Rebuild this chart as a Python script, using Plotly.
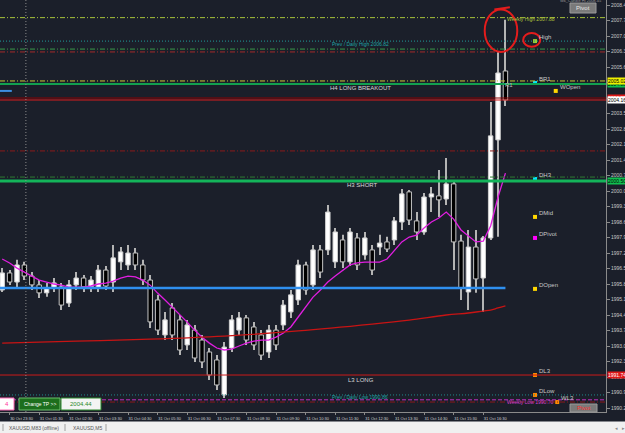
import plotly.graph_objects as go

# ---------------- data ----------------
tick_labels = ["30 Oct 23:30", "31 Oct 01:30", "31 Oct 02:30", "31 Oct 03:30", "31 Oct 04:30",
               "31 Oct 05:30", "31 Oct 06:30", "31 Oct 07:30", "31 Oct 08:30", "31 Oct 09:30",
               "31 Oct 10:30", "31 Oct 11:30", "31 Oct 12:30", "31 Oct 13:30", "31 Oct 14:30",
               "31 Oct 15:30", "31 Oct 16:30"]
tick_bars = [1, 5, 9, 13, 17, 21, 25, 29, 33, 37, 41, 45, 49, 53, 57, 61, 65]

opens = [1995.58, 1996.35, 1995.94, 1996.71, 1996.21, 1995.81, 1995.45, 1995.67, 1995.72, 1994.99,
         1995.81, 1996.12, 1995.72, 1995.67, 1996.48, 1995.94, 1996.85, 1996.71, 1997.25, 1996.71,
         1996.03, 1995.13, 1993.55, 1994.77, 1994.23, 1993.10, 1993.77, 1993.32, 1992.78, 1992.42,
         1990.84, 1992.96, 1993.77, 1994.32, 1993.91, 1993.55, 1992.78, 1993.77, 1994.00, 1994.59,
         1995.13, 1996.71, 1995.81, 1997.39, 1997.39, 1996.85, 1997.84, 1996.85, 1997.93, 1997.16,
         1997.39, 1997.52, 1997.75, 1997.84, 1998.65, 2000.01, 1998.70, 1998.20, 1999.78, 1999.83,
         1999.69, 2000.37, 1997.79, 1995.49, 1997.52, 1996.12, 1997.93, 2002.36, 2005.47]
highs = [1996.57, 1996.48, 1996.94, 1996.85, 1996.39, 1996.03, 1995.90, 1996.12, 1995.90, 1996.03,
         1996.39, 1996.26, 1996.21, 1996.71, 1996.66, 1997.61, 1997.52, 1997.61, 1997.48, 1996.94,
         1996.26, 1995.36, 1994.59, 1994.99, 1994.45, 1994.23, 1994.00, 1993.55, 1992.96, 1992.64,
         1993.23, 1994.45, 1994.59, 1994.45, 1994.14, 1993.77, 1994.00, 1994.00, 1995.13, 1995.58,
         1996.94, 1996.85, 1997.61, 1997.61, 1999.42, 1998.38, 1998.07, 1998.38, 1998.15, 1998.20,
         1997.61, 1998.07, 1997.98, 1998.88, 2000.14, 2000.10, 1999.10, 1999.96, 2000.23, 2001.00,
         2001.54, 2000.55, 1998.07, 1998.29, 1998.29, 1998.02, 2004.07, 2006.33, 2007.78]
lows = [1995.49, 1995.81, 1995.67, 1996.03, 1995.58, 1995.22, 1995.27, 1995.49, 1994.68, 1994.81,
        1995.58, 1995.49, 1995.49, 1995.49, 1995.58, 1995.49, 1996.48, 1996.48, 1996.48, 1995.81,
        1993.86, 1993.55, 1993.32, 1993.32, 1992.64, 1992.87, 1992.33, 1992.06, 1991.52, 1991.06,
        1990.70, 1992.78, 1993.55, 1993.10, 1992.87, 1992.42, 1992.51, 1992.87, 1993.77, 1994.32,
        1994.90, 1995.36, 1995.58, 1996.12, 1997.16, 1996.57, 1996.57, 1996.66, 1996.48, 1996.94,
        1996.26, 1997.16, 1997.30, 1997.61, 1998.29, 1998.52, 1997.84, 1998.07, 1999.10, 1998.88,
        1999.42, 1996.48, 1995.13, 1994.68, 1995.45, 1994.59, 1997.84, 1997.98, 2003.89]
closes = [1996.35, 1995.94, 1996.71, 1996.21, 1995.81, 1995.45, 1995.67, 1995.90, 1994.90, 1995.81,
          1996.12, 1995.72, 1996.03, 1996.48, 1995.76, 1997.03, 1997.30, 1997.25, 1996.71, 1996.03,
          1994.14, 1993.77, 1994.23, 1993.55, 1992.87, 1994.00, 1992.51, 1992.33, 1991.74, 1991.29,
          1993.00, 1994.23, 1994.32, 1993.32, 1993.10, 1992.64, 1993.77, 1993.10, 1994.90, 1995.36,
          1996.71, 1995.58, 1997.39, 1996.39, 1999.10, 1998.20, 1996.85, 1998.20, 1996.71, 1997.93,
          1996.48, 1997.70, 1997.43, 1998.70, 1999.92, 1998.74, 1998.20, 1999.78, 1999.92, 1999.65,
          2000.37, 1997.75, 1995.67, 1997.52, 1996.08, 1997.93, 2002.54, 2005.38, 2004.16]

ma_fast = [1996.98, 1996.80, 1996.57, 1996.39, 1996.21, 1996.03, 1995.94, 1995.85, 1995.80, 1995.71,
           1995.71, 1995.71, 1995.76, 1995.85, 1995.89, 1995.98, 1996.12, 1996.21, 1996.17, 1996.03,
           1995.80, 1995.44, 1995.13, 1994.81, 1994.45, 1994.13, 1993.77, 1993.45, 1993.18, 1992.96,
           1992.87, 1992.91, 1993.05, 1993.18, 1993.27, 1993.32, 1993.32, 1993.45, 1993.64, 1993.91,
           1994.36, 1994.81, 1995.26, 1995.58, 1995.94, 1996.21, 1996.48, 1996.71, 1996.80, 1996.84,
           1996.84, 1996.84, 1996.98, 1997.38, 1997.75, 1997.97, 1998.06, 1998.38, 1998.65, 1998.83,
           1999.10, 1998.78, 1998.29, 1998.02, 1997.75, 1997.79, 1998.47, 1999.78, 2000.86]

ma_slow_bars = [0, 10, 20, 30, 40, 50, 55, 60, 63, 65, 66, 67, 68]
ma_slow = [1993.18, 1993.27, 1993.36, 1993.50, 1993.73, 1994.04, 1994.22, 1994.45, 1994.54,
           1994.63, 1994.67, 1994.77, 1994.86]

# horizontal levels
level_prices = [2007.88, 2006.82, 2006.46, 2006.33, 2005.02, 2004.88, 2004.25, 2004.16,
                2001.86, 2000.68, 2000.50, 1991.74, 1990.84, 1990.62, 1990.52]
level_colors = ["#a8c43a", "#1f9a9a", "#3a9a4a", "#a52a2a", "#c8c832", "#12a050", "#8b0000", "#d81c1c",
                "#8b1a1a", "#2e7d32", "#14b45a", "#cc1a1a", "#1f8a8a", "#c030c0", "#8b1a1a"]
level_widths = [1, 1, 1, 1, 1, 2, 1, 1, 1, 1, 3, 1, 1, 1, 1]
level_dashes = ["5px,2px,1px,2px", "1px,2px", "5px,2px,1px,2px", "5px,2px,1px,2px", "5px,2px,1px,2px",
                "solid", "solid", "solid", "5px,2px,1px,2px", "5px,2px,1px,2px", "solid", "solid",
                "1px,2px", "4px,2px", "5px,2px,1px,2px"]

daily_open = 1995.67
weekly_open = 2004.57
day_start_bar = 3

marker_names = ["High", "BR1", "WOpen", "DH3", "DMid", "DPivot", "DOpen", "DL3", "DLow", "WL3"]
marker_prices = [2006.82, 2004.93, 2004.57, 2000.59, 1998.88, 1997.93, 1995.63, 1991.74, 1990.84, 1990.52]
marker_bars = [72, 72, 74.8, 72, 72, 72, 72, 72, 72, 75]
marker_colors = ["#9acd32", "#00e5ff", "#ffd700", "#00e5ff", "#ffd700", "#ff00ff", "#ffd700",
                 "#ff8c00", "#ff8c00", "#ff8c00"]

ytick_vals = [2008.45, 2007.75, 2007.05, 2006.35, 2005.65, 2004.95, 2004.25, 2003.55, 2002.85,
              2002.15, 2001.45, 2000.75, 2000.05, 1999.35, 1998.65, 1997.95, 1997.25, 1996.55,
              1995.85, 1995.15, 1994.45, 1993.75, 1993.05, 1992.35, 1991.65, 1990.95, 1990.25]

price_box_vals = [2004.88, 2005.02, 2004.25, 2004.16, 2000.50, 1991.74]
price_box_bg = ["#10c050", "#f0f000", "#e01818", "#ffffff", "#10c050", "#e01818"]
price_box_fg = ["#000000", "#000000", "#ffffff", "#000000", "#000000", "#ffffff"]

# ---------------- figure ----------------
BG = "#1b1f2a"
FONT = "Liberation Sans"
W, H = 625, 433
PW, PH = 606, 412
bars = list(range(len(opens)))
bull = [c >= o for o, c in zip(opens, closes)]

fig = go.Figure()
# wicks
fig.add_trace(go.Bar(x=bars, base=lows, y=[h - l for h, l in zip(highs, lows)], width=0.14,
                     marker=dict(color="#b4b4b4", line=dict(width=0)),
                     showlegend=False, hoverinfo="skip"))
# bodies
fig.add_trace(go.Bar(x=bars, base=[min(o, c) for o, c in zip(opens, closes)],
                     y=[max(abs(c - o), 0.03) for o, c in zip(opens, closes)], width=0.6,
                     marker=dict(color=["#ffffff" if b else "#000000" for b in bull],
                                 line=dict(color=["#d0d0d0" if b else "#c4c4c4" for b in bull], width=1)),
                     showlegend=False, hoverinfo="skip"))
fig.add_trace(go.Scatter(x=bars, y=ma_fast, mode="lines",
                         line=dict(color="#e01ee0", width=1.3), showlegend=False, hoverinfo="skip"))
fig.add_trace(go.Scatter(x=ma_slow_bars, y=ma_slow, mode="lines",
                         line=dict(color="#c81414", width=1.3, shape="spline"),
                         showlegend=False, hoverinfo="skip"))

shapes = []
for p, c, w, d in zip(level_prices, level_colors, level_widths, level_dashes):
    shapes.append(dict(type="line", xref="paper", x0=0, x1=1, yref="y", y0=p, y1=p,
                       line=dict(color=c, width=w, dash=d), layer="above"))
# daily open (blue thick)
shapes.append(dict(type="line", xref="x", x0=-0.3, x1=bars[-1], yref="y", y0=daily_open, y1=daily_open,
                   line=dict(color="#2f8fef", width=2.5), layer="above"))
# weekly open stub
shapes.append(dict(type="line", xref="x", x0=-0.3, x1=1.3, yref="y", y0=weekly_open, y1=weekly_open,
                   line=dict(color="#3d8fe0", width=2), layer="above"))
# day separator
shapes.append(dict(type="line", xref="x", x0=day_start_bar + 0.2, x1=day_start_bar + 0.2, yref="paper",
                   y0=0, y1=1, line=dict(color="#8a8a8a", width=1, dash="1px,2px"), layer="above"))
# hand-drawn red circles
shapes.append(dict(type="circle", xref="x", yref="y", x0=65.2, x1=69.6, y0=2006.33, y1=2008.25,
                   line=dict(color="#e41c1c", width=2), layer="above"))
shapes.append(dict(type="line", xref="x", yref="y", x0=66.5, x1=68.6, y0=2008.25, y1=2008.35,
                   line=dict(color="#e41c1c", width=2), layer="above"))
shapes.append(dict(type="circle", xref="x", yref="y", x0=70.4, x1=72.7, y0=2006.56, y1=2007.19,
                   line=dict(color="#e41c1c", width=2), layer="above"))


def px(x):
    return x / PW


def py(y):
    return 1 - y / PH


# UI boxes (paper coords)
ui_boxes = [
    (570, 3, 596, 13, "#7a7a7a", "#9a9a9a"),      # Pivot top
    (570, 404, 597, 412, "#7a7a7a", "#9a9a9a"),   # Pivot bottom
    (-2, 398, 14, 410, "#ffffff", "#ff69b4"),     # 4
    (19, 398, 60, 410, "#1c6e1c", "#6abf6a"),     # Change TP
    (61, 398, 101, 410, "#f4f4f4", "#2a8a2a"),    # 2004.44
    (0, 422, 625, 433, "#f0f0f0", "#f0f0f0"),     # tab bar
]
for x0, y0, x1, y1, fc, lc in ui_boxes:
    shapes.append(dict(type="rect", xref="paper", yref="paper", x0=px(x0), x1=px(x1),
                       y0=py(y1), y1=py(y0), fillcolor=fc, line=dict(color=lc, width=1), layer="above"))
for sx in [3, 65, 106]:
    shapes.append(dict(type="line", xref="paper", yref="paper", x0=px(sx), x1=px(sx),
                       y0=py(431), y1=py(424), line=dict(color="#a0a0a0", width=1), layer="above"))

ann = []


def txt(x, y, t, color, size, xref="x", yref="y", xanchor="left", yanchor="middle", **kw):
    ann.append(dict(x=x, y=y, xref=xref, yref=yref, text=t, showarrow=False, xanchor=xanchor,
                    yanchor=yanchor, font=dict(family=FONT, size=size, color=color), **kw))


txt(68.0, 2007.80, "Weekly High 2007.88", "#b0c23a", 5)
txt(44.3, 2006.69, "Prev / Daily High 2006.82", "#1fa3a3", 5)
txt(44.0, 2004.70, "H4 LONG BREAKOUT", "#d8d8d8", 6)
txt(46.3, 2000.32, "H3 SHORT", "#d8d8d8", 6)
txt(46.5, 1991.51, "L3 LONG", "#d8d8d8", 6)
txt(44.3, 1990.75, "Prev / Daily Low 1990.86", "#1fa3a3", 5)
txt(68.0, 1990.50, "Weekly Low 1990.70", "#d040d0", 5)
txt(67.7, 2004.84, "R1", "#bdbdbd", 6)

# right-side markers and labels
fig.add_trace(go.Scatter(x=marker_bars, y=marker_prices, mode="markers",
                         marker=dict(symbol="square", size=4, color=marker_colors),
                         showlegend=False, hoverinfo="skip"))
for n, b, p in zip(marker_names, marker_bars, marker_prices):
    txt(b, p, n, "#c8c8c8", 6, xshift=2, yshift=4)

# price boxes on the axis
for v, bgc, fg in zip(price_box_vals, price_box_bg, price_box_fg):
    ann.append(dict(x=1, xref="paper", y=v, yref="y", text=f"{v:.2f}", showarrow=False,
                    xanchor="left", xshift=1, yanchor="middle", bgcolor=bgc, borderpad=0,
                    font=dict(family=FONT, size=5, color=fg)))

# UI texts
txt(px(583), py(8), "Pivot", "#e6e6e6", 6, xref="paper", yref="paper", xanchor="center")
txt(px(583.5), py(408), "Pivot", "#ff3030", 6, xref="paper", yref="paper", xanchor="center")
txt(px(604), py(0.5), "Wk_Candle Hi 2008.45", "#9a9a9a", 4, xref="paper", yref="paper", xanchor="right")
txt(px(3), py(404), "4", "#ff3399", 6, xref="paper", yref="paper")
txt(px(39.5), py(404), "Change TP >>", "#ffffff", 5, xref="paper", yref="paper", xanchor="center")
txt(px(81), py(404), "2004.44", "#2a8a2a", 6, xref="paper", yref="paper", xanchor="center")
txt(px(7), py(427.5), "XAUUSD,M83 (offline)", "#555555", 5, xref="paper", yref="paper")
txt(px(71), py(427.5), "XAUUSD,M5", "#555555", 5, xref="paper", yref="paper")
txt(px(613), py(427.5), "◂", "#888888", 5, xref="paper", yref="paper")
txt(px(620), py(427.5), "▸", "#888888", 5, xref="paper", yref="paper")

fig.update_layout(
    width=W, height=H, margin=dict(l=0, r=W - PW, t=0, b=H - PH),
    paper_bgcolor=BG, plot_bgcolor=BG, template="none", barmode="overlay",
    showlegend=False, shapes=shapes, annotations=ann,
    xaxis=dict(range=[-0.297, 81.59], tickvals=tick_bars, ticktext=tick_labels, tickangle=0,
               ticks="outside", ticklen=2, tickcolor="#8a8a8a", ticklabelshift=12,
               tickfont=dict(family=FONT, size=4, color="#d0d0d0"), showgrid=False, zeroline=False,
               showline=True, linecolor="#8a8a8a", linewidth=1,
               automargin=False, fixedrange=True),
    yaxis=dict(range=[1990.07, 2008.676], side="right", tickvals=ytick_vals,
               ticktext=[f"{v:.2f}" for v in ytick_vals], ticks="outside", ticklen=3,
               tickcolor="#8a8a8a", tickfont=dict(family=FONT, size=5, color="#c8c8c8"),
               showgrid=False, zeroline=False, showline=True, linecolor="#8a8a8a", linewidth=1,
               automargin=False, fixedrange=True),
)

fig.write_html("out.html")
